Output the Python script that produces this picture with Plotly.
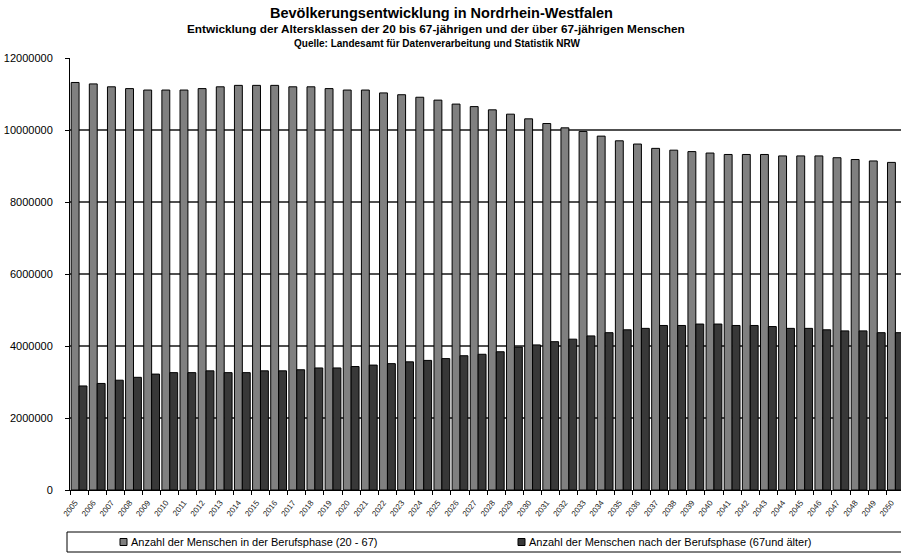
import plotly.graph_objects as go

years = ["2005", "2006", "2007", "2008", "2009", "2010", "2011", "2012", "2013", "2014",
         "2015", "2016", "2017", "2018", "2019", "2020", "2021", "2022", "2023", "2024",
         "2025", "2026", "2027", "2028", "2029", "2030", "2031", "2032", "2033", "2034",
         "2035", "2036", "2037", "2038", "2039", "2040", "2041", "2042", "2043", "2044",
         "2045", "2046", "2047", "2048", "2049", "2050"]

working_age = [11320000, 11280000, 11200000, 11150000, 11110000, 11110000, 11110000, 11150000,
               11200000, 11240000, 11240000, 11240000, 11200000, 11200000, 11150000, 11110000,
               11110000, 11030000, 10980000, 10910000, 10830000, 10720000, 10650000, 10560000,
               10440000, 10310000, 10180000, 10060000, 9960000, 9830000, 9700000, 9610000,
               9490000, 9440000, 9400000, 9360000, 9320000, 9320000, 9320000, 9280000,
               9280000, 9280000, 9230000, 9180000, 9140000, 9100000]

retired = [2890000, 2960000, 3050000, 3130000, 3220000, 3260000, 3260000, 3310000,
           3260000, 3260000, 3310000, 3310000, 3340000, 3390000, 3390000, 3430000,
           3470000, 3510000, 3560000, 3600000, 3650000, 3730000, 3770000, 3840000,
           3970000, 4030000, 4120000, 4190000, 4280000, 4370000, 4450000, 4490000,
           4570000, 4570000, 4610000, 4610000, 4570000, 4570000, 4540000, 4490000,
           4490000, 4450000, 4420000, 4420000, 4370000, 4370000]

y_ticks = [0, 2000000, 4000000, 6000000, 8000000, 10000000, 12000000]

name_work = "Anzahl der Menschen in der Berufsphase (20 - 67)"
name_ret = "Anzahl der Menschen nach der Berufsphase (67und älter)"
title1 = "Bevölkerungsentwicklung in Nordrhein-Westfalen"
title2 = "Entwicklung der Altersklassen der 20 bis 67-jährigen und der über 67-jährigen Menschen"
title3 = "Quelle: Landesamt für Datenverarbeitung und Statistik NRW"

GRAY = "#808080"
DARK = "#383838"
FONT = "Liberation Sans, Arial, sans-serif"

W, H = 901, 553
ML, MR, MT, MB = 70, 0, 58, 63
PW = W - ML - MR
PH = H - MT - MB


def px_x(px):
    return (px - ML) / PW


def px_y(py):
    return (H - MB - py) / PH


fig = go.Figure()
fig.add_trace(go.Bar(x=years, y=working_age, name=name_work,
                     marker=dict(color=GRAY, line=dict(color="black", width=1)),
                     showlegend=False))
fig.add_trace(go.Bar(x=years, y=retired, name=name_ret,
                     marker=dict(color=DARK, line=dict(color="black", width=1)),
                     showlegend=False))

fig.update_layout(
    width=W, height=H,
    margin=dict(l=ML, r=MR, t=MT, b=MB, autoexpand=False),
    paper_bgcolor="white", plot_bgcolor="white",
    barmode="group", bargap=0.13, bargroupgap=0,
    font=dict(family=FONT, color="black"),
    showlegend=False,
)

fig.update_xaxes(
    type="category", range=[-0.5, 45.31], automargin=False,
    showline=True, linecolor="black", linewidth=1,
    ticks="outside", tickson="boundaries", ticklen=4, tickcolor="black",
    tickangle=-52, tickfont=dict(size=8, family=FONT, color="#222222"),
    ticklabelstandoff=4, ticklabelshift=-4,
    showgrid=False,
)
fig.update_yaxes(
    range=[0, 12000000], tickvals=y_ticks, ticktext=[str(v) for v in y_ticks],
    automargin=False,
    showline=True, linecolor="black", linewidth=1,
    ticks="outside", ticklen=4, tickcolor="black",
    tickfont=dict(size=11, family=FONT, color="black"),
    ticklabelstandoff=10,
    showgrid=True, gridcolor="#505050", gridwidth=1.5,
    zeroline=False,
)

# Titles
fig.add_annotation(text="<b>" + title1 + "</b>", x=px_x(441), y=px_y(13), xref="paper", yref="paper",
                   showarrow=False, font=dict(size=14.5, family=FONT), xanchor="center", yanchor="middle")
fig.add_annotation(text="<b>" + title2 + "</b>", x=px_x(436), y=px_y(29), xref="paper", yref="paper",
                   showarrow=False, font=dict(size=11.8, family=FONT), xanchor="center", yanchor="middle")
fig.add_annotation(text="<b>" + title3 + "</b>", x=px_x(437), y=px_y(44), xref="paper", yref="paper",
                   showarrow=False, font=dict(size=10, family=FONT), xanchor="center", yanchor="middle")

# Legend box
fig.add_shape(type="rect", xref="paper", yref="paper",
              x0=px_x(67), x1=px_x(910), y0=px_y(532), y1=px_y(552),
              line=dict(color="black", width=1), fillcolor="rgba(0,0,0,0)")
for sx, tx, col, txt in [(120, 129, GRAY, name_work), (518, 527, DARK, name_ret)]:
    fig.add_shape(type="rect", xref="paper", yref="paper",
                  x0=px_x(sx), x1=px_x(sx + 7), y0=px_y(538.5), y1=px_y(545.5),
                  line=dict(color="black", width=1), fillcolor=col)
    fig.add_annotation(text=txt, x=px_x(tx), y=px_y(542), xref="paper", yref="paper",
                       showarrow=False, font=dict(size=11, family=FONT), xanchor="left", yanchor="middle")

fig.write_html("out.html", config={"displayModeBar": False},
               post_script="document.body.style.margin='0';document.body.style.overflow='hidden';")
